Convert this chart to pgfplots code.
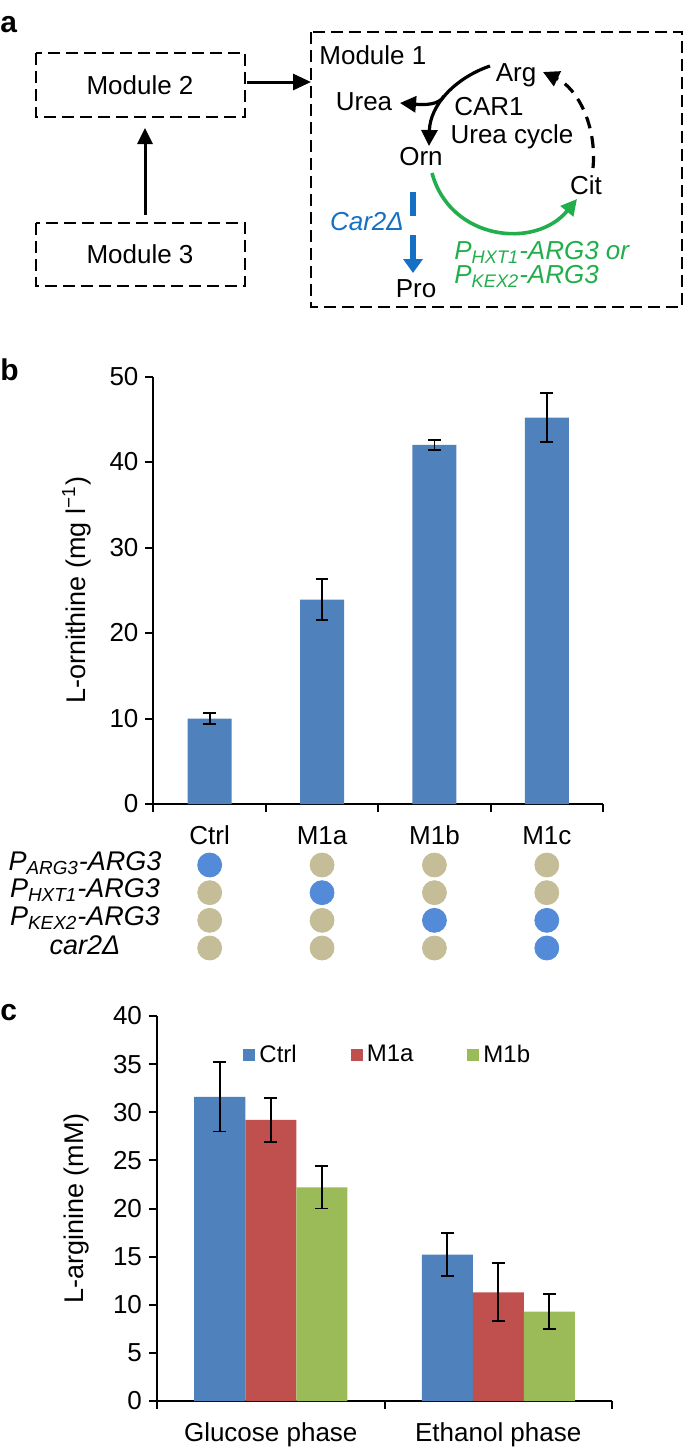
\documentclass[border=0pt]{standalone}
\usepackage{fontspec}
\setmainfont{Liberation Sans}
\usepackage{pgfplots}
\pgfplotsset{compat=1.18}
\usetikzlibrary{arrows.meta}

\definecolor{barblue}{RGB}{79,129,189}
\definecolor{barred}{RGB}{192,80,77}
\definecolor{bargreen}{RGB}{155,187,89}
\definecolor{dotblue}{RGB}{83,139,216}
\definecolor{dottan}{RGB}{196,189,151}
\definecolor{txtblue}{RGB}{20,112,196}
\definecolor{txtgreen}{RGB}{34,174,76}

\pgfplotsset{
  panel/.style={
    scale only axis,
    axis x line*=bottom, axis y line*=left,
    axis line style={line width=1pt, black},
    tick align=outside, major tick length=4pt,
    tick style={line width=1pt, black},
    tick label style={font=\fontsize{13}{15}\selectfont},
    /pgf/number format/assume math mode=true,
    xticklabels={},
    extra x tick style={tick style={draw=none},
      tick label style={anchor=base, yshift=-16pt}},
    ylabel style={font=\fontsize{13.5}{16}\selectfont, anchor=center},
    error bars/error mark=|,
    error bars/error bar style={line width=0.9pt, black},
    error bars/error mark options={line width=0.9pt, black, mark size=3.2pt},
  },
}

\begin{document}
\begin{tikzpicture}
\useasboundingbox (0pt,0pt) rectangle (342.5pt,-723.5pt);

% ---------- panel a (pixel units) ----------
\begin{scope}[x=0.5pt, y=-0.5pt, font=\fontsize{13}{15}\selectfont]
\node[font=\fontsize{15}{17}\selectfont\bfseries, anchor=base west, inner sep=0] at (0,32) {a};
\node[font=\fontsize{15}{17}\selectfont\bfseries, anchor=base west, inner sep=0] at (0,380) {b};
\node[font=\fontsize{15}{17}\selectfont\bfseries, anchor=base west, inner sep=0] at (0,1020) {c};

\begin{scope}[line width=1.2pt, dash pattern=on 6pt off 3pt]
\draw (36,53) rectangle (245,117);
\draw (36,223) rectangle (245,286);
\draw (311,32) rectangle (682,307);
\end{scope}
\node at (140,85) {Module 2};
\node at (140,254) {Module 3};
\node[anchor=base west, inner sep=0] at (319,64) {Module 1};

\draw[line width=1.5pt, -{Triangle[length=9pt,width=8pt]}] (247,82) -- (311,82);
\draw[line width=1.5pt, -{Triangle[length=8pt,width=7.5pt]}] (145,215) -- (145,128);

\node[anchor=base, inner sep=0] at (516,81) {Arg};
\node[anchor=base, inner sep=0] at (364,110) {Urea};
\node[anchor=base, inner sep=0] at (489,115) {CAR1};
\node[anchor=base, inner sep=0] at (512,143) {Urea cycle};
\node[anchor=base, inner sep=0] at (421,165) {Orn};
\node[anchor=base, inner sep=0] at (586,194) {Cit};
\node[anchor=base, inner sep=0] at (416,297) {Pro};
\node[anchor=base, inner sep=0, text=txtblue] at (367,230) {\itshape Car2Δ};
\node[anchor=base west, inner sep=0, text=txtgreen] at (454,259) {\itshape P\textsubscript{HXT1}-ARG3 or};
\node[anchor=base west, inner sep=0, text=txtgreen] at (454,283) {\itshape P\textsubscript{KEX2}-ARG3};

\draw[line width=1.6pt, -{Triangle[length=8pt,width=8pt]}]
  (490,66) .. controls (455,78) and (430,105) .. (429,146);
\draw[line width=1.6pt, -{Triangle[length=8pt,width=8pt]}]
  (444,96) .. controls (439,105) and (425,105) .. (400,103);
\draw[line width=1.6pt, dash pattern=on 6pt off 4pt, -{Triangle[length=8pt,width=8pt]}]
  (593,168) .. controls (597,125) and (577,88) .. (543,72);
\draw[line width=1.8pt, txtgreen, -{Triangle[length=8pt,width=8pt]}]
  (432,173) .. controls (450,240) and (535,250) .. (577,199);
\draw[line width=2.8pt, txtblue] (413,192) -- (413,216);
\draw[line width=2.8pt, txtblue, -{Triangle[length=7pt,width=9.5pt]}] (413,235) -- (413,273);

% row labels of the strain matrix
\foreach \yy/\lab in {870/{P\textsubscript{ARG3}-ARG3}, 897/{P\textsubscript{HXT1}-ARG3},
                      925/{P\textsubscript{KEX2}-ARG3}, 954/{car2Δ}}
  \node[anchor=base, inner sep=0, font=\fontsize{13.5}{16}\selectfont\itshape] at (85,\yy) {\lab};
\end{scope}

% ---------- panel b ----------
\begin{axis}[panel,
  at={(76.75pt,-402pt)}, anchor=south west,
  width=224.75pt, height=213.75pt,
  xmin=-0.5, xmax=3.5, ymin=0, ymax=50,
  xtick={-0.5,0.5,1.5,2.5,3.5},
  extra x ticks={0,1,2,3},
  extra x tick labels={Ctrl,M1a,M1b,M1c},
  ytick={0,10,20,30,40,50},
  ylabel={L-ornithine (mg l\textsuperscript{−1})},
  ylabel style={at={(axis description cs:-0.171,0.5)}},
]
\addplot[ybar, bar width=22pt, fill=barblue, draw=none,
  error bars/.cd, y dir=both, y explicit]
  coordinates {(0,10.0) +- (0,0.6) (1,23.9) +- (0,2.4) (2,42.0) +- (0,0.55) (3,45.2) +- (0,2.9)};
\end{axis}

% ---------- strain matrix ----------
\begin{axis}[
  at={(76.75pt,-474pt)}, anchor=south west,
  scale only axis, width=224.75pt, height=41.5pt,
  xmin=-0.5, xmax=3.5, ymin=0, ymax=3,
  axis lines=none, clip=false,
]
\addplot[only marks, mark=*, mark size=6pt, color=dottan]
  coordinates {(1,3) (2,3) (3,3) (0,2) (2,2) (3,2) (0,1) (1,1) (0,0) (1,0) (2,0)};
\addplot[only marks, mark=*, mark size=6pt, color=dotblue]
  coordinates {(0,3) (1,2) (2,1) (3,1) (3,0)};
\end{axis}

% ---------- panel c ----------
\begin{axis}[panel,
  at={(78.5pt,-700.5pt)}, anchor=south west,
  width=227.5pt, height=192.5pt,
  xmin=-0.5, xmax=1.5, ymin=0, ymax=40,
  ybar=0pt, bar width=25.5pt,
  xtick={-0.5,0.5,1.5},
  extra x ticks={0,1},
  extra x tick labels={Glucose phase,Ethanol phase},
  ytick={0,5,...,40},
  ylabel={L-arginine (mM)},
  ylabel style={at={(axis description cs:-0.176,0.5)}},
  legend style={at={(axis description cs:0.176,0.899)}, anchor=west,
    draw=none, fill=none, legend columns=3, font=\fontsize{12}{14}\selectfont,
    /tikz/every even column/.append style={column sep=25pt}},
]
\addplot[fill=barblue, draw=none, legend image code/.code={\fill[barblue] (0pt,-3pt) rectangle (6pt,3pt);},
  error bars/.cd, y dir=both, y explicit]
  coordinates {(0,31.6) +- (0,3.6) (1,15.2) +- (0,2.25)};
\addplot[fill=barred, draw=none, legend image code/.code={\fill[barred] (0pt,-3pt) rectangle (6pt,3pt);},
  error bars/.cd, y dir=both, y explicit]
  coordinates {(0,29.2) +- (0,2.25) (1,11.3) +- (0,3.0)};
\addplot[fill=bargreen, draw=none, legend image code/.code={\fill[bargreen] (0pt,-3pt) rectangle (6pt,3pt);},
  error bars/.cd, y dir=both, y explicit]
  coordinates {(0,22.2) +- (0,2.2) (1,9.3) +- (0,1.8)};
\legend{Ctrl,M1a,M1b}
\end{axis}
\end{tikzpicture}
\end{document}
